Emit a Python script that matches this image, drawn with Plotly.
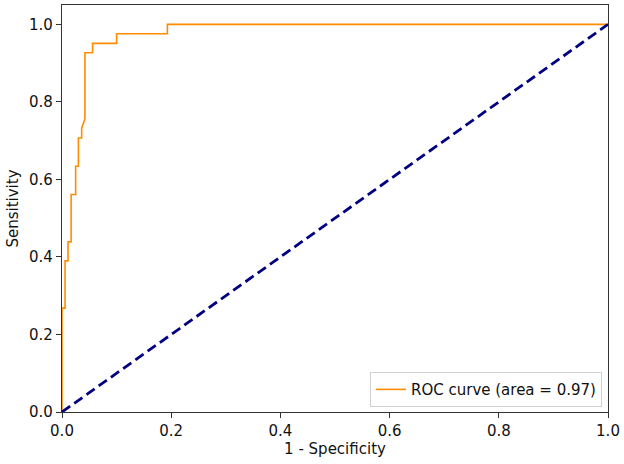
import plotly.graph_objects as go

# ROC curve points (1 - specificity, sensitivity)
fpr = [0.0, 0.0, 0.0056, 0.0056, 0.011, 0.011, 0.0167, 0.0167, 0.025, 0.025,
       0.030, 0.030, 0.036, 0.036, 0.042, 0.042, 0.056, 0.056, 0.10, 0.10,
       0.193, 0.193, 1.0]
tpr = [0.0, 0.268, 0.268, 0.390, 0.390, 0.439, 0.439, 0.561, 0.561, 0.634,
       0.634, 0.707, 0.707, 0.732, 0.756, 0.927, 0.927, 0.951, 0.951, 0.976,
       0.976, 1.0, 1.0]
roc_auc = 0.97

# chance diagonal
diag_x = [0, 1]
diag_y = [0, 1]

FONT = dict(family="DejaVu Sans", size=15, color="#111111")

fig = go.Figure()
fig.add_trace(go.Scatter(
    x=fpr, y=tpr, mode="lines",
    line=dict(color="darkorange", width=1.6),
    name=f"ROC curve (area = {roc_auc:.2f})",
))
fig.add_trace(go.Scatter(
    x=diag_x, y=diag_y, mode="lines",
    line=dict(color="navy", width=2.8, dash="10px,5px"),
    showlegend=False,
))

axis_style = dict(
    showline=True, linecolor="#333333", linewidth=1.2, mirror=True,
    showgrid=False, zeroline=False, automargin=False,
    ticks="outside", ticklen=5, tickwidth=1, tickcolor="#333333",
    tickfont=FONT, tickformat=".1f", dtick=0.2,
)

fig.update_layout(
    width=624, height=464,
    margin=dict(l=62, r=16, t=5, b=52),
    paper_bgcolor="white", plot_bgcolor="white",
    font=FONT,
    xaxis=dict(range=[0, 1], title=dict(text="1 - Specificity", font=FONT, standoff=4), **axis_style),
    yaxis=dict(range=[0, 1.05], title=dict(text="Sensitivity", font=FONT, standoff=6), **axis_style),
    legend=dict(
        x=0.989, y=0.012, xanchor="right", yanchor="bottom",
        bgcolor="rgba(255,255,255,0.8)", bordercolor="#d0d0d0", borderwidth=1,
        font=FONT, itemwidth=30,
    ),
)

# the page's default body margin would push the figure 8px in
fig.write_html("out.html", config={"displayModeBar": False},
               post_script="document.body.style.margin='0';")
